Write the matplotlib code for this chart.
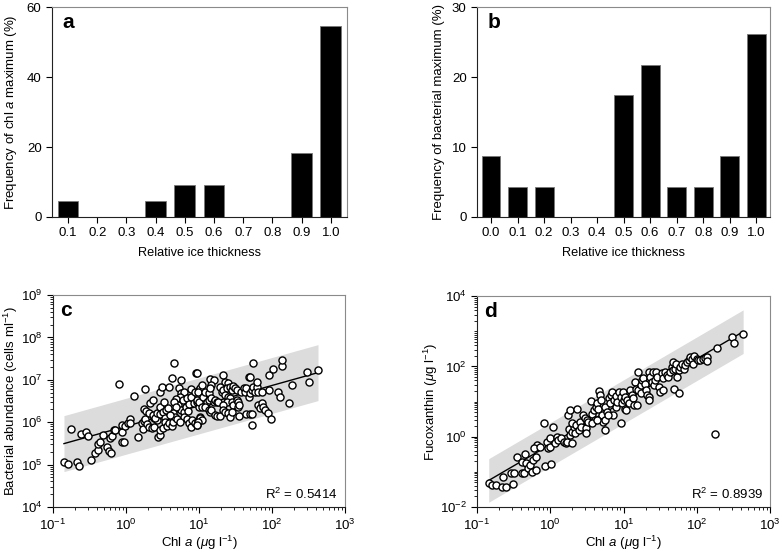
import numpy as np
import matplotlib
matplotlib.use("Agg")
import matplotlib.pyplot as plt
from matplotlib.ticker import LogLocator, NullFormatter

plt.rcParams['font.family'] = ['Liberation Sans', 'DejaVu Sans']
plt.rcParams['mathtext.fontset'] = 'custom'
plt.rcParams['mathtext.rm'] = 'Liberation Sans'
plt.rcParams['mathtext.it'] = 'Liberation Sans:italic'
plt.rcParams['mathtext.bf'] = 'Liberation Sans:bold'
plt.rcParams['font.size'] = 9.5

# panel a: chl a maximum
thick_a = ['0.1', '0.2', '0.3', '0.4', '0.5', '0.6', '0.7', '0.8', '0.9', '1.0']
freq_a = [4.5, 0, 0, 4.5, 9.1, 9.1, 0, 0, 18.2, 54.5]

# panel b: bacterial maximum
thick_b = ['0.0', '0.1', '0.2', '0.3', '0.4', '0.5', '0.6', '0.7', '0.8', '0.9', '1.0']
freq_b = [8.7, 4.35, 4.35, 0, 0, 17.4, 21.7, 4.35, 4.35, 8.7, 26.1]

# panel c: log10 chl a vs log10 bacterial abundance
chl_c_log = [-0.85, -0.79, -0.67, -0.65, -0.48, -0.75, -0.61, -0.55, -0.52, -0.42,
             -0.39, -0.38, -0.36, -0.32, -0.26, -0.23, -0.20, -0.22, -0.19, -0.17,
             -0.15, -0.06, -0.03, -0.05, -0.05, -0.02, 0.03, 0.06, 0.06, 0.17,
             0.11, -0.09, 0.26, 0.22, 0.23, 0.24, 0.26, 0.29, 0.32, 0.36,
             0.39, 0.39, 0.42, 0.44, 0.46, 0.47, 0.50, 0.25, 0.27, 0.31,
             0.33, 0.37, 0.37, 0.40, 0.43, 0.46, 0.47, 0.51, 0.55, 0.54,
             0.52, 0.53, 0.56, 0.59, 0.63, 0.64, 0.46, 0.49, 0.59, 0.63,
             0.66, 0.76, 0.72, 0.76, 0.79, 0.74, 0.69, 0.71, 0.75, 0.79,
             0.82, 0.85, 0.80, 0.83, 0.86, 0.89, 0.91, 0.94, 0.97, 0.99,
             1.02, 0.78, 0.84, 0.86, 0.89, 0.93, 0.97, 1.00, 0.89, 0.95,
             1.00, 0.96, 1.02, 0.66, 0.69, 0.64, 0.67, 0.70, 0.74, 0.60,
             0.58,
             0.97, 1.04, 0.99, 0.97, 1.00, 1.06, 1.08, 1.13, 1.15, 1.20,
             1.17, 1.15, 1.11, 1.13, 1.17, 1.20, 1.22, 1.24, 1.26, 1.04,
             1.08, 1.13, 1.15, 1.17, 1.22, 1.24, 1.29, 1.01, 1.04, 0.99,
             0.97, 1.33, 1.36, 1.40, 1.29, 1.31, 1.33, 1.38, 1.42, 1.45,
             1.47, 1.49, 1.52, 1.36, 1.40, 1.42, 1.38, 1.33, 1.45, 1.47,
             1.52, 1.54, 1.53, 1.55, 1.33, 1.36, 1.40, 1.42, 1.45, 1.55,
             1.58, 1.61, 1.63, 1.65, 1.68, 1.70, 1.72, 1.74, 1.77, 1.68,
             1.70, 1.74, 1.79, 1.80, 1.81, 1.86, 1.65, 1.70, 1.73, 1.72,
             1.81, 1.84, 1.86, 1.88, 1.90, 1.95, 1.99, 1.96, 1.96, 2.02,
             2.08, 2.11, 2.13, 2.14, 2.23, 2.28, 2.48, 2.51, 2.63]
bact_c_log = [5.05, 5.01, 5.07, 4.97, 5.10, 5.84, 5.73, 5.77, 5.68, 5.27,
              5.34, 5.49, 5.54, 5.69, 5.42, 5.33, 5.28, 5.62, 5.68, 5.82,
              5.82, 5.53, 5.53, 5.76, 5.93, 5.91, 5.97, 6.07, 5.99, 5.65,
              6.61, 6.89, 6.78, 5.99, 5.84, 6.04, 6.08, 5.95, 5.89, 5.86,
              5.89, 6.11, 6.05, 5.64, 5.70, 5.81, 5.86, 6.32, 6.27, 6.22,
              6.45, 6.52, 6.17, 6.09, 6.21, 6.35, 6.19, 6.24, 6.30, 6.11,
              6.48, 6.01, 5.91, 5.97, 5.91, 6.00, 6.72, 6.83, 6.83, 7.05,
              7.40, 7.00, 6.80, 6.70, 6.72, 6.59, 6.55, 6.41, 6.30, 6.25,
              6.35, 6.27, 6.13, 6.07, 5.97, 5.88, 6.05, 5.97, 5.93, 6.03,
              6.13, 6.52, 6.56, 6.42, 6.59, 6.46, 6.48, 6.37, 6.78, 6.72,
              6.75, 7.15, 6.80, 6.47, 6.35, 6.21, 6.13, 6.08, 6.01, 6.17,
              6.33,
              7.15, 6.88, 6.72, 6.52, 6.48, 6.60, 6.72, 6.68, 7.03, 7.00,
              6.88, 6.80, 6.48, 6.52, 6.56, 6.48, 6.52, 6.48, 6.48, 6.37,
              6.35, 6.30, 6.25, 6.29, 6.17, 6.15, 6.15, 6.09, 6.05, 6.01,
              5.93, 7.11, 6.96, 6.92, 6.84, 6.72, 6.76, 6.80, 6.84, 6.76,
              6.85, 6.80, 6.76, 6.64, 6.60, 6.56, 6.48, 6.41, 6.48, 6.41,
              6.52, 6.48, 6.35, 6.41, 6.29, 6.25, 6.22, 6.13, 6.25, 6.15,
              6.72, 6.80, 6.72, 6.80, 6.60, 6.68, 6.76, 6.82, 6.72, 7.07,
              7.07, 7.39, 6.84, 6.96, 6.72, 6.72, 6.19, 6.19, 6.19, 5.93,
              6.41, 6.33, 6.45, 6.35, 6.30, 6.21, 6.08, 6.76, 7.11, 7.26,
              6.72, 6.60, 7.33, 7.47, 6.46, 6.88, 7.19, 6.94, 7.23]

# panel d: log10 chl a vs log10 fucoxanthin
chl_d_log = [-0.84, -0.79, -0.74, -0.66, -0.60, -0.64, -0.54, -0.51, -0.49, -0.46,
             -0.39, -0.39, -0.36, -0.35, -0.33, -0.31, -0.28, -0.25, -0.23, -0.20,
             -0.19, -0.18, -0.22, -0.14, -0.09, -0.07, -0.04, -0.03, -0.01, 0.00,
             0.01, 0.04, 0.06, 0.09, 0.11, 0.15, 0.18, 0.21, 0.23, 0.25,
             0.27, 0.29, 0.30, 0.32, 0.24, 0.27, 0.30, 0.33, 0.35, 0.37,
             0.39, 0.40, 0.42, 0.45, 0.47, 0.48, 0.49, 0.50, 0.52, 0.55,
             0.57, 0.59, 0.61, 0.62, 0.63, 0.65, 0.66, 0.68, 0.69, 0.71,
             0.72, 0.74, 0.75, 0.77, 0.80, 0.81, 0.83, 0.84, 0.86, 0.87,
             0.89, 0.90, 0.91, 0.93, 0.96, 0.97, 0.98, 0.99, 1.00, 1.02,
             0.57, 0.64, 0.74, 0.78,
             1.02, 1.03, 1.04, 1.07, 1.09, 1.11, 1.13, 1.14, 1.18, 1.16,
             1.17, 1.20, 1.20, 1.23, 1.23, 1.25, 1.27, 1.29, 1.31, 1.32,
             1.34, 1.35, 1.34, 1.36, 1.38, 1.40, 1.41, 1.43, 1.44, 1.45,
             1.48, 1.50, 1.52, 1.54, 1.54, 1.57, 1.59, 1.61, 1.63, 1.66,
             1.67, 1.68, 1.69, 1.70, 1.72, 1.73, 1.75, 1.75, 1.77, 1.80,
             1.82, 1.84, 1.86, 1.89, 1.91, 1.93, 1.95, 1.96, 2.00, 2.02,
             2.04, 2.08, 2.11, 2.14, 2.14, 2.24, 2.28, 2.48, 2.51, 2.63]
fuco_d_log = [-1.31, -1.38, -1.38, -1.44, -1.44, -1.16, -1.04, -1.35, -1.02, -0.57,
              -0.71, -1.02, -1.02, -0.48, -0.76, -0.88, -0.81, -1.00, -0.66, -0.95,
              -0.57, -0.24, -0.33, -0.29, 0.38, -0.83, -0.14, -0.33, -0.05, -0.29,
              -0.79, 0.28, -0.19, 0.00, -0.10, -0.05, -0.14, -0.19, -0.14, 0.23,
              0.05, -0.17, 0.14, 0.28, 0.61, 0.77, 0.38, 0.11, 0.33, 0.80,
              0.19, 0.42, 0.28, 0.61, 0.52, 0.26, 0.12, 0.47, 0.42, 1.01,
              0.66, 0.76, 0.47, 0.85, 0.95, 0.80, 1.30, 1.18, 1.04, 0.61,
              0.42, 0.19, 0.85, 0.71, 1.09, 0.95, 1.18, 1.28, 0.61, 1.04,
              0.85, 1.15, 0.99, 1.28, 0.38, 1.13, 0.95, 1.28, 1.04, 0.80,
              0.38, 0.47, 0.47, 0.61,
              1.13, 0.76, 1.04, 0.95, 1.32, 1.18, 1.09, 0.90, 0.90, 1.56,
              1.37, 1.32, 1.84, 1.47, 1.23, 1.61, 1.66, 1.51, 1.32, 1.18,
              1.13, 1.04, 1.84, 1.70, 1.56, 1.84, 1.47, 1.61, 1.84, 1.70,
              1.42, 1.28, 1.80, 1.32, 1.66, 1.84, 1.75, 1.70, 1.84, 1.99,
              2.13, 1.89, 1.37, 1.94, 2.08, 1.70, 1.89, 1.23, 1.99, 2.08,
              1.94, 2.03, 2.13, 2.18, 2.27, 2.22, 2.08, 2.29, 2.22, 2.18,
              2.18, 2.20, 2.25, 2.27, 2.16, 0.07, 2.53, 2.84, 2.67, 2.91]

band_c = 0.66   # half width of grey band, decades
band_d = 0.62
r2_c = 0.5414
r2_d = 0.8939


def style_axes(ax):
    for s in ['left', 'bottom']:
        ax.spines[s].set_color('#222222')
    for s in ['top', 'right']:
        ax.spines[s].set_color('#8a8a8a')
    ax.tick_params(direction='out', length=4, width=0.8, labelsize=9.5)
    ax.tick_params(which='minor', direction='out', length=2.5, width=0.6)


def bar_panel(ax, cats, vals, ymax, step, ylabel, letter, margin, ylx):
    x = np.arange(len(cats))
    ax.bar(x, vals, width=0.71, color='black', edgecolor='#777777', linewidth=0.6)
    ax.set_xticks(x)
    ax.set_xticklabels(cats)
    ax.set_xlim(-margin, len(cats) - 1 + margin)
    ax.set_ylim(0, ymax)
    ax.set_yticks(np.arange(0, ymax + 1, step))
    ax.set_ylabel(ylabel, fontsize=9.5)
    ax.yaxis.set_label_coords(ylx, 0.5)
    ax.set_xlabel('Relative ice thickness', fontsize=9.2)
    ax.xaxis.set_label_coords(0.5, -0.145)
    ax.text(0.035, 0.97, letter, transform=ax.transAxes, fontsize=15,
            fontweight='bold', va='top')
    style_axes(ax)


def scatter_panel(ax, xlog, ylog, band, r2, ylim, ylabel, letter, ymajor, ylx):
    xlog = np.array(xlog)
    ylog = np.array(ylog)
    slope, icpt = np.polyfit(xlog, ylog, 1)
    xx = np.linspace(xlog.min(), xlog.max(), 50)
    yy = slope * xx + icpt
    ax.fill_between(10 ** xx, 10 ** (yy - band), 10 ** (yy + band),
                    color='#dcdcdc', linewidth=0, zorder=1)
    ax.plot(10 ** xx, 10 ** yy, color='black', lw=1.0, zorder=2)
    ax.scatter(10 ** xlog, 10 ** ylog, s=26, facecolor='white',
               edgecolor='black', linewidth=1.0, zorder=3)
    ax.set_xscale('log')
    ax.set_yscale('log')
    ax.set_xlim(0.1, 1000)
    ax.set_ylim(*ylim)
    ax.xaxis.set_major_locator(LogLocator(base=10, numticks=10))
    ax.xaxis.set_minor_locator(LogLocator(base=10, subs=np.arange(2, 10), numticks=50))
    ax.yaxis.set_major_locator(LogLocator(base=ymajor, numticks=10))
    ax.yaxis.set_minor_locator(LogLocator(base=10, subs=np.arange(1, 10), numticks=50))
    ax.yaxis.set_minor_formatter(NullFormatter())
    ax.xaxis.set_minor_formatter(NullFormatter())
    ax.set_xlabel('Chl $a$ ($\\mu$g l$^{-1}$)', fontsize=9.5)
    ax.xaxis.set_label_coords(0.5, -0.128)
    ax.set_ylabel(ylabel, fontsize=9.5)
    ax.yaxis.set_label_coords(ylx, 0.5)
    ax.text(0.975, 0.025, 'R$^2$ = %.4f' % r2, transform=ax.transAxes,
            ha='right', va='bottom', fontsize=9.5)
    ax.text(0.025, 0.97, letter, transform=ax.transAxes, fontsize=15,
            fontweight='bold', va='top')
    style_axes(ax)


fig = plt.figure(figsize=(7.82, 5.52), dpi=100)
ax_a = fig.add_axes([0.0665, 0.607, 0.377, 0.380])
ax_b = fig.add_axes([0.610, 0.607, 0.375, 0.380])
ax_c = fig.add_axes([0.0678, 0.0815, 0.3734, 0.384])
ax_d = fig.add_axes([0.610, 0.0815, 0.375, 0.382])

bar_panel(ax_a, thick_a, freq_a, 60, 20, 'Frequency of chl $a$ maximum (%)', 'a', 0.55, -0.112)
bar_panel(ax_b, thick_b, freq_b, 30, 10, 'Frequency of bacterial maximum (%)', 'b', 0.53, -0.11)

scatter_panel(ax_c, chl_c_log, bact_c_log, band_c, r2_c, (1e4, 1e9),
              'Bacterial abundance (cells ml$^{-1}$)', 'c', 10, -0.112)
scatter_panel(ax_d, chl_d_log, fuco_d_log, band_d, r2_d, (1e-2, 1e4),
              'Fucoxanthin ($\\mu$g l$^{-1}$)', 'd', 100, -0.125)

fig.savefig('out.png', dpi=100)
